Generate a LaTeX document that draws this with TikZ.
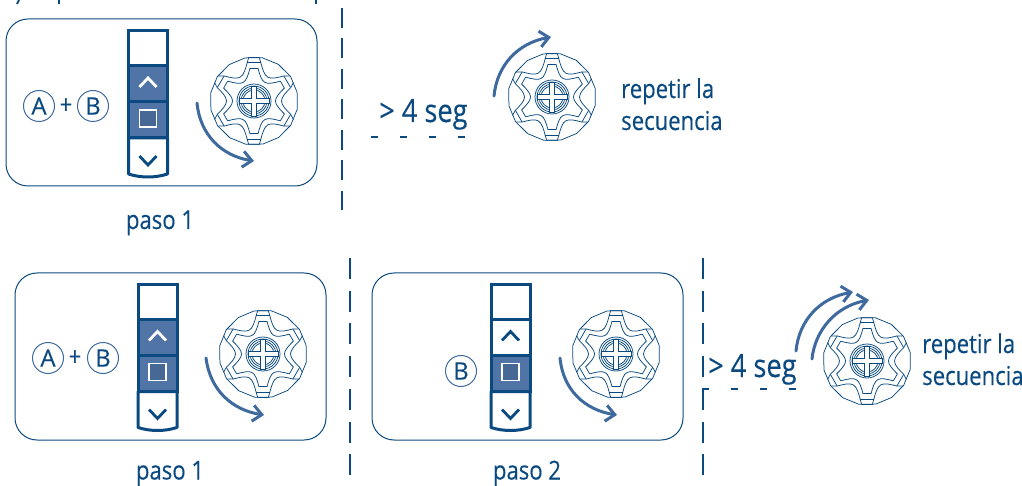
\documentclass[tikz,border=0pt]{standalone}
\usepackage{fontspec}
\setmainfont[FakeStretch=0.85,FakeBold=0.35]{Open Sans}
\newfontfamily\circfont[FakeBold=0.2]{Open Sans}
\usetikzlibrary{arrows.meta}
\definecolor{ink}{HTML}{0B4A80}
\definecolor{mid}{HTML}{4F74A5}
\definecolor{arr}{HTML}{3E6A9E}
\tikzset{
  x=1pt,y=-1pt,
  panel/.style={draw=ink,line width=1pt,rounded corners=22pt,minimum width=#1,minimum height=167pt,inner sep=0pt,outer sep=0pt},
  lab/.style={text=ink,font=\fontsize{26}{30}\selectfont,inner sep=0pt},
  wait/.style={text=ink,font=\fontsize{32}{36}\selectfont,inner sep=0pt},
  circ/.style={draw=arr,circle,line width=1pt,minimum size=31pt,inner sep=0pt,text=ink,font=\circfont\fontsize{24}{24}\selectfont},
  plussign/.style={text=ink,font=\fontsize{26}{26}\selectfont,inner sep=0pt},
  sepA/.style={draw=ink,line width=2pt,dash pattern=on 20pt off 10.5pt},
  sepB/.style={draw=ink,line width=2pt,dash pattern=on 21pt off 11.7pt},
  under/.style={draw=ink,line width=1.5pt,dash pattern=on 6.5pt off 22.5pt},
  turn/.style={draw=arr,line width=3pt,line cap=round,-{Straight Barb[length=9pt,width=16pt,line width=3pt]}},
  key/.style={draw=ink,line width=3pt,minimum width=39pt,minimum height=36pt,inner sep=0pt,outer sep=0pt,anchor=north west},
  knobline/.style={draw=ink,line width=0.75pt,line join=round},
  pics/knob/.style={code={
    \draw[knobline,fill=white] plot[samples=17,domain=0:360] (\x+11:44) -- cycle;
    \foreach \a in {30,90,...,330}{
      \draw[knobline] (\a-10:39) .. controls (\a-15:33) and (\a-21:28) .. (\a-30:27.5);
      \draw[knobline] (\a+10:39) .. controls (\a+15:33) and (\a+21:28) .. (\a+30:27.5);
      \draw[knobline] (\a-7:33) .. controls (\a-12:27) and (\a-21:21.5) .. (\a-30:21.5);
      \draw[knobline] (\a+7:33) .. controls (\a+12:27) and (\a+21:21.5) .. (\a+30:21.5);
      \draw[knobline] (\a-7:33) -- (\a+7:33);
    }
    \foreach \a in {30,150,210,330}{
      \draw[knobline] (\a-10:39) -- (\a-5:43.5);
      \draw[knobline] (\a+10:39) -- (\a+5:43.5);
      \draw[knobline] (\a-10:39) -- (\a+10:39);
    }
    \foreach \a in {90,270}{
      \draw[knobline] (\a-10:39) -- (\a-7:43.7) -- (\a+7:43.7) -- (\a+10:39);
      \draw[knobline] (\a-10:39) -- (\a+10:39);
    }
    \foreach \r in {11,13,15,17}{\draw[knobline] (0,0) circle[radius=\r];}
    \draw[draw=ink,line width=0.8pt,fill=white] (-2.5,-15) -- (2.5,-15) -- (2.5,-2.5) -- (15,-2.5) -- (15,2.5) -- (2.5,2.5) -- (2.5,15) -- (-2.5,15) -- (-2.5,2.5) -- (-15,2.5) -- (-15,-2.5) -- (-2.5,-2.5) -- cycle;
  }}
}
% #1 x-left, #2 y-top, #3 up fill, #4 chevron colour, #5 name prefix
\newcommand{\remotekey}[5]{%
  \begin{scope}[shift={(#1,#2)}]
    \node[key,fill=white] (#5top) at (1.5,1.5) {};
    \node[key,fill=#3] (#5up) at (1.5,37) {};
    \node[key,fill=mid] (#5stop) at (1.5,73) {};
    \draw[draw=ink,line width=3pt,fill=white,line join=round] (1.5,109) -- (40.5,109) -- (40.5,145) .. controls (28,149) and (14,149) .. (1.5,145) -- cycle;
    \draw[draw=#4,line width=2.8pt] (12.5,58) -- (21,49) -- (29.5,58);
    \draw[draw=white,line width=1.1pt,fill=mid!90!black] (12.5,81) rectangle (29.5,98);
    \draw[draw=ink,line width=2.8pt] (12.5,127) -- (21,136) -- (29.5,127);
  \end{scope}}
\begin{document}
\begin{tikzpicture}
\useasboundingbox (0,0) rectangle (1022,486);
% clipped text fragments at the top edge
\draw[ink,line width=2pt] (19,0) -- (17,4);
\draw[ink,line width=2pt] (58.5,0) -- (58.5,4);
\draw[ink,line width=2pt] (315.5,0) -- (315.5,4);
% panels
\node[panel=311pt,anchor=north west] (p1) at (6,19) {};
\node[panel=311pt,anchor=north west] (p2) at (15,273) {};
\node[panel=311pt,anchor=north west] (p3) at (372,273) {};
% remotes
\remotekey{127}{29}{mid}{white}{r1}
\remotekey{136.5}{282.5}{mid}{white}{r2}
\remotekey{489.5}{282.5}{white}{ink}{r3}
% knobs
\pic at (254,101) {knob};
\pic at (552,97) {knob};
\pic at (263,354) {knob};
\pic at (616,354) {knob};
\pic at (867,361) {knob};
% labels in panels
\node[circ] (a1) at (39,106) {A};
\node[plussign] (pl1) at (66,106) {+};
\node[circ] (b1) at (93,106) {B};
\node[circ] (a2) at (48,358) {A};
\node[plussign] (pl2) at (75,358) {+};
\node[circ] (b2) at (103,358) {B};
\node[circ] (b3) at (461,371) {B};
% arrows
\draw[turn] (197,103) .. controls (200,135) and (222,156) .. (254,161);
\draw[turn] (206,358) .. controls (210,390) and (232,410) .. (264,415);
\draw[turn] (560,358) .. controls (563,390) and (585,410) .. (617,415);
\draw[turn] (494,96) .. controls (497,65) and (518,43) .. (551,37);
\draw[turn] (796,351) .. controls (799,320) and (820,298) .. (853,292);
\draw[turn] (812,359) .. controls (815,330) and (836,306) .. (869,300);
% separators
\draw[sepA] (342,8) -- (342,210);
\draw[sepB] (350,258) -- (350,476);
\draw[sepB] (703,258) -- (703,476);
% wait labels
\node[wait,anchor=base west] (w1) at (379,122) {> 4 seg};
\node[wait,anchor=base west] (w2) at (708,377) {> 4 seg};
\draw[under] (371,137) -- (470,137);
\draw[under] (702,389) -- (797,389);
\node[lab,anchor=base west] (s1) at (621,98) {repetir la};
\node[lab,anchor=base west] (s2) at (621,130) {secuencia};
\node[lab,anchor=base west] (s3) at (922,353) {repetir la};
\node[lab,anchor=base west] (s4) at (922,385) {secuencia};
\node[lab,anchor=base] (c1) at (160,229) {paso 1};
\node[lab,anchor=base] (c2) at (170,479.5) {paso 1};
\node[lab,anchor=base] (c3) at (527,479.5) {paso 2};
\end{tikzpicture}
\end{document}
